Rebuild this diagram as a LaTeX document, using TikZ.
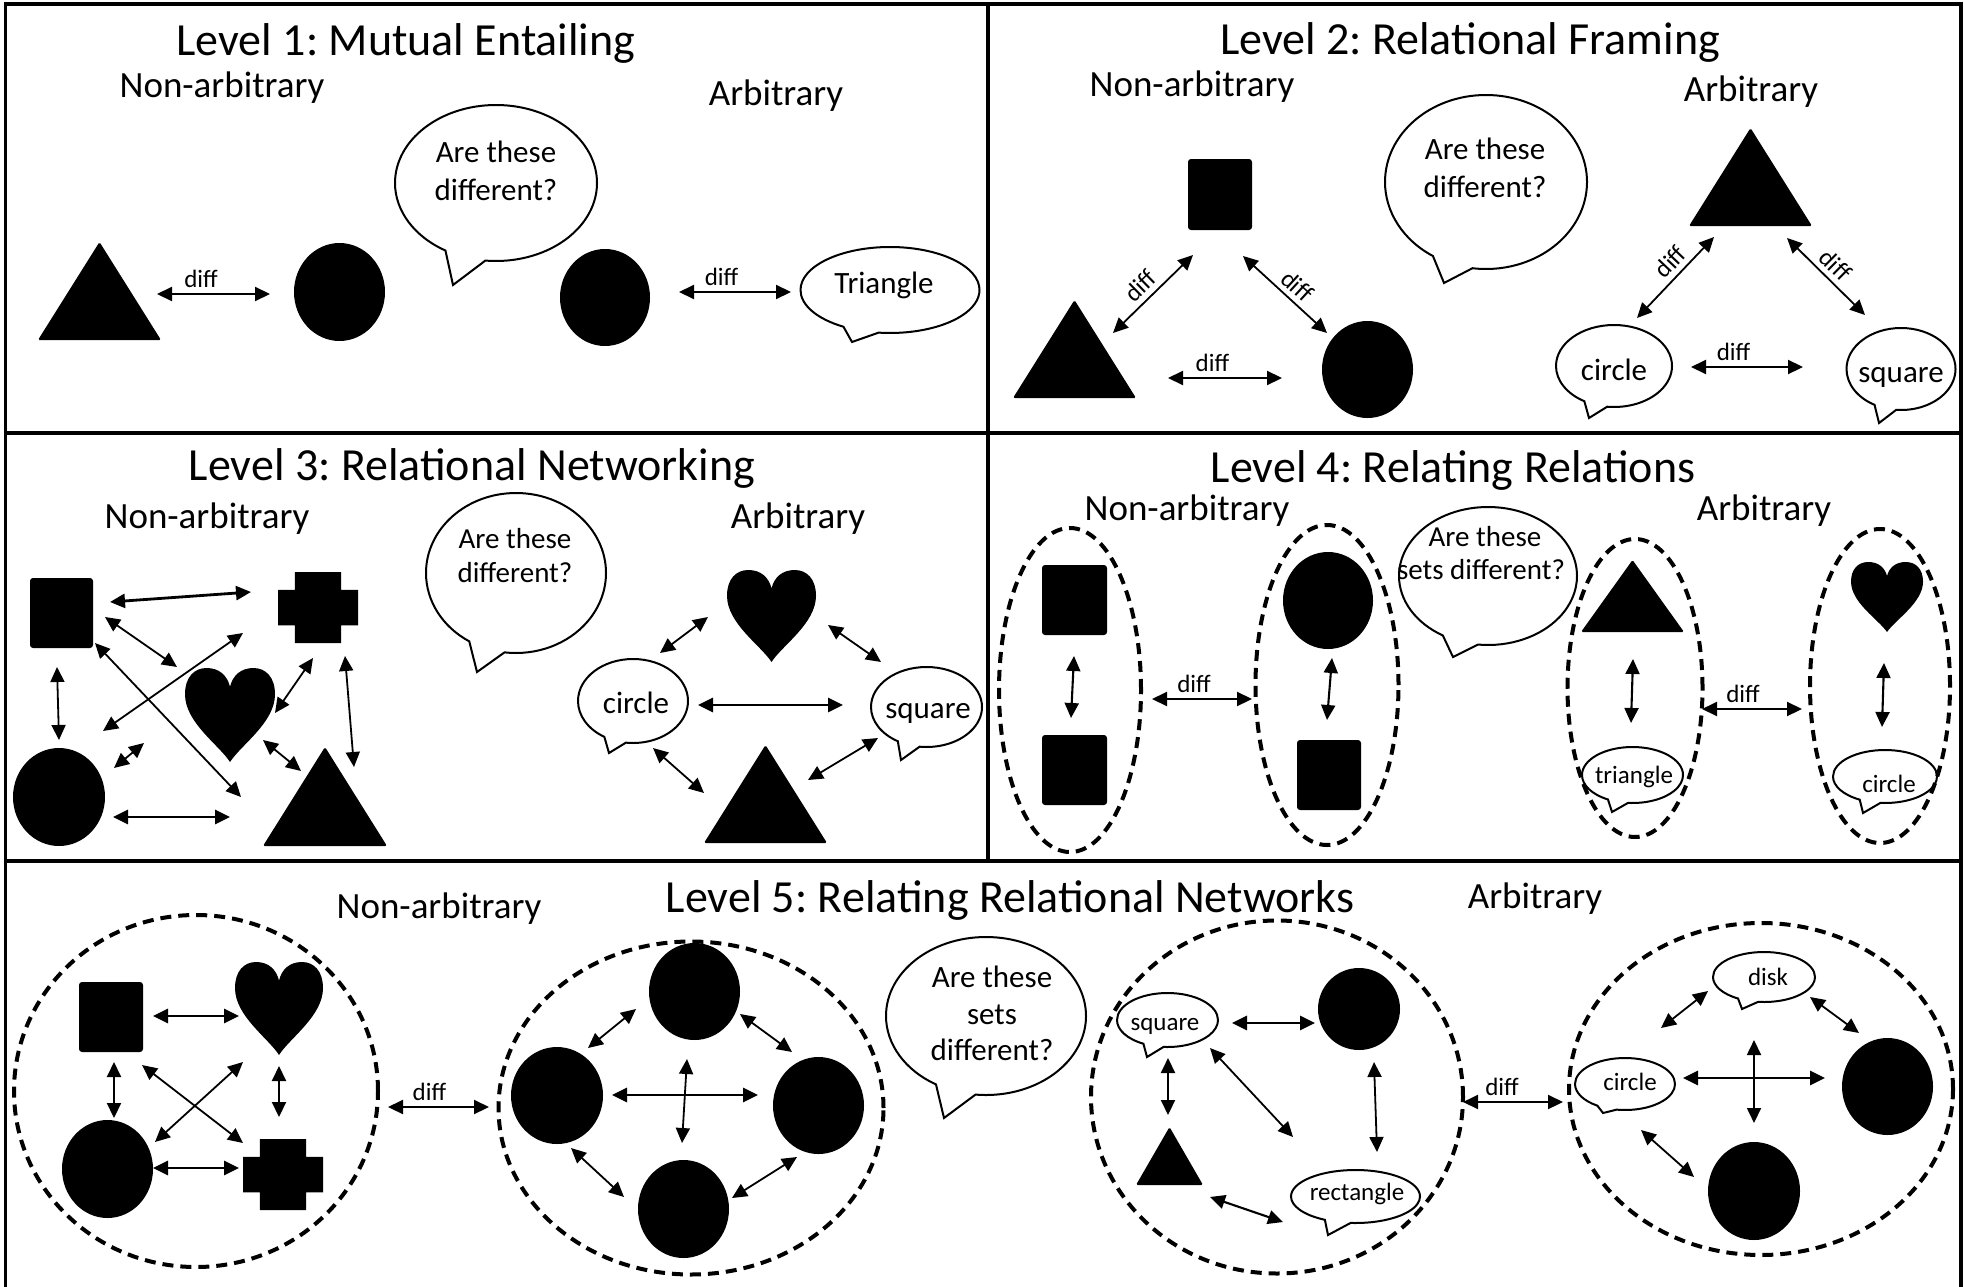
\documentclass[tikz,border=0pt]{standalone}
\usepackage{fontspec}
\setmainfont{Carlito}
\usetikzlibrary{arrows.meta,shapes.geometric,shapes.callouts}
\frenchspacing
\newcommand\ftitle{\fontsize{46}{50}\selectfont}
\newcommand\fsub{\fontsize{37}{40}\selectfont}
\newcommand\fbub{\fontsize{31}{34}\selectfont}
\newcommand\fbubs{\fontsize{29}{32}\selectfont}
\newcommand\fsml{\fontsize{25}{28}\selectfont}
% a double-headed link between two named end points
\newcommand\link[5]{\coordinate (#1s) at #2; \coordinate (#1e) at #3; \draw[#4] (#1s) -- #5 (#1e);}
\begin{document}
\begin{tikzpicture}[x=1pt, y=-1pt,
  >={Triangle[length=15pt,width=14pt]},
  frame/.style={line width=3.5pt},
  ttl/.style={font=\ftitle, inner sep=0pt, anchor=base},
  sub/.style={font=\fsub, inner sep=0pt, anchor=base},
  btxt/.style={font=\fbub, inner sep=0pt, anchor=base},
  btxs/.style={font=\fbubs, inner sep=0pt, anchor=base},
  stxt/.style={font=\fsml, inner sep=0pt, anchor=base},
  lnk/.style={<->, line width=1.8pt},
  lnkb/.style={<->, line width=2.8pt},
  lnkd/.style={<->, line width=2.1pt},
  dl/.style={font=\fsml, inner sep=0pt, above=5pt},
  dls/.style={font=\fsml, inner sep=0pt, sloped, above=5pt},
  solidshape/.style={inner sep=0pt, outer sep=0pt},
  sq/.style 2 args={solidshape, fill=black, rounded corners=3pt, minimum width=#1pt, minimum height=#2pt},
  ov/.style 2 args={solidshape, ellipse, fill=black, minimum width=#1pt, minimum height=#2pt},
  tr/.style 2 args={solidshape, minimum width=#1pt, minimum height=#2pt,
    path picture={\fill[shift={(path picture bounding box.center)}, x=#1pt, y=#2pt, rounded corners=1.5pt]
      (-0.5,-0.5) -- (0.5,-0.5) -- (0,0.5) -- cycle;}},
  ht/.style 2 args={solidshape, minimum width=#1pt, minimum height=#2pt,
    path picture={\fill[shift={(path picture bounding box.center)}, x=#1pt, y=#2pt]
      (0,-0.5) .. controls (-0.12,-0.32) and (-0.5,-0.08) .. (-0.5,0.22)
      .. controls (-0.5,0.4) and (-0.4,0.5) .. (-0.26,0.5)
      .. controls (-0.12,0.5) and (-0.03,0.42) .. (0,0.3)
      .. controls (0.03,0.42) and (0.12,0.5) .. (0.26,0.5)
      .. controls (0.4,0.5) and (0.5,0.4) .. (0.5,0.22)
      .. controls (0.5,-0.08) and (0.12,-0.32) .. (0,-0.5) -- cycle;}},
  cr/.style 2 args={solidshape, minimum width=#1pt, minimum height=#2pt,
    path picture={\fill[shift={(path picture bounding box.center)}, x=#1pt, y=#2pt]
      (-0.29,-0.5) rectangle (0.29,0.5) (-0.5,-0.25) rectangle (0.5,0.25);}},
  bub/.style={ellipse callout, draw, line width=2pt, inner sep=0pt, callout pointer arc=24},
  grp/.style={ellipse, draw, line width=4pt, dash pattern=on 11pt off 7pt, inner sep=0pt},
]
\useasboundingbox (0,0) rectangle (1964,1287);

% ---------- panel frames ----------
\draw[frame] (5.5,4) -- (1961,4);
\draw[frame] (5.5,2) -- (5.5,1287);
\draw[frame] (1961,2) -- (1961,1287);
\draw[frame] (5.5,433) -- (1961,433);
\draw[frame] (5.5,861) -- (1961,861);
\draw[frame] (988,4) -- (988,861);

% ---------- Level 1 ----------
\node[ttl] (t1) at (406,56) {Level 1: Mutual Entailing};
\node[sub] (na1) at (222,98) {Non-arbitrary};
\node[sub] (ar1) at (776,106) {Arbitrary};
\node[bub, minimum width=202pt, minimum height=156pt, callout absolute pointer={(453,285)}] (q1) at (496,183) {};
\node[btxt] (q1a) at (496,162) {Are these};
\node[btxt] (q1b) at (496,200) {different?};
\node[tr={123}{98}] (tri1) at (99.5,291) {};
\node[ov={91}{98}] (cir1) at (339.5,292) {};
\node[ov={90}{97}] (cir1b) at (605,297.5) {};
\node[bub, minimum width=179pt, minimum height=86pt, callout absolute pointer={(852,342)}] (w1) at (890,290) {};
\node[btxt] (w1t) at (884,293) {Triangle};
\link{a}{(157,294)}{(270,294)}{lnkd}{node[dl,pos=.39]{diff}}
\link{b}{(679,292)}{(791,292)}{lnkd}{node[dl,pos=.38]{diff}}

% ---------- Level 2 ----------
\node[ttl] (t2) at (1470,55) {Level 2: Relational Framing};
\node[sub] (na2) at (1192,97) {Non-arbitrary};
\node[sub] (ar2) at (1751,102) {Arbitrary};
\node[sq={64}{71}] (sq2) at (1220,194.5) {};
\node[tr={123}{98}] (tri2) at (1074.5,349) {};
\node[ov={91}{97}] (cir2) at (1367.5,369.5) {};
\node[bub, minimum width=202pt, minimum height=174pt, callout absolute pointer={(1444,283)}] (q2) at (1486,182) {};
\node[btxt] (q2a) at (1485,160) {Are these};
\node[btxt] (q2b) at (1485,197) {different?};
\node[tr={123}{98}] (tri2b) at (1750.5,177) {};
\node[bub, minimum width=116pt, minimum height=82pt, callout absolute pointer={(1589,418)}] (w2a) at (1614,366) {};
\node[btxt] (w2at) at (1614,380) {circle};
\node[bub, minimum width=109pt, minimum height=82pt, callout absolute pointer={(1879,423)}] (w2b) at (1901,369) {};
\node[btxt] (w2bt) at (1901,382) {square};
\link{c}{(1113,333)}{(1193,255)}{lnk}{node[dls,pos=.47]{diff}}
\link{d}{(1243,256)}{(1327,333)}{lnk}{node[dls,pos=.53]{diff}}
\link{e}{(1168,378)}{(1282,378)}{lnkd}{node[dl,pos=.39]{diff}}
\link{f}{(1637,318)}{(1714,237)}{lnk}{node[dls,pos=.57]{diff}}
\link{g}{(1787,238)}{(1865,315)}{lnk}{node[dls,pos=.49]{diff}}
\link{h}{(1691,367)}{(1803,367)}{lnkd}{node[dl,pos=.38]{diff}}

% ---------- Level 3 ----------
\node[ttl] (t3) at (472,480) {Level 3: Relational Networking};
\node[sub] (na3) at (207,528) {Non-arbitrary};
\node[sub] (ar3) at (798,528) {Arbitrary};
\node[sq={63}{70}] (sq3) at (61.5,613) {};
\node[cr={80}{71}] (cr3) at (318,607.5) {};
\node[ht={90}{94}] (ht3) at (230,715) {};
\node[ov={92}{98}] (ci3) at (59,797) {};
\node[tr={124}{99}] (tr3) at (325,796.5) {};
\node[bub, minimum width=180pt, minimum height=160pt, callout absolute pointer={(477,672)}] (q3) at (516,573) {};
\node[btxs] (q3a) at (515,548) {Are these};
\node[btxs] (q3b) at (515,582) {different?};
\node[ht={89}{92}] (ht3b) at (771.5,616) {};
\node[bub, minimum width=110pt, minimum height=84pt, callout absolute pointer={(609,753)}] (w3a) at (633,701) {};
\node[btxt] (w3at) at (636,713) {circle};
\node[bub, minimum width=111pt, minimum height=80pt, callout absolute pointer={(901,760)}] (w3b) at (926.5,707) {};
\node[btxt] (w3bt) at (928,718) {square};
\node[tr={123}{98}] (tr3b) at (765.5,794) {};
\link{i}{(110,602)}{(251,592)}{lnkb}{}
\link{j}{(105,617)}{(177,667)}{lnk}{}
\link{k}{(243,633)}{(103,731)}{lnk}{}
\link{l}{(95,643)}{(241,797)}{lnk}{}
\link{m}{(57,667)}{(59,740)}{lnk}{}
\link{n}{(313,658)}{(275,713)}{lnk}{}
\link{o}{(345,656)}{(354,767)}{lnk}{}
\link{p}{(144,743)}{(114,768)}{lnk}{}
\link{q}{(263,740)}{(301,771)}{lnk}{}
\link{r}{(113,817)}{(230,817)}{lnkb}{}
\link{s}{(660,653)}{(708,617)}{lnk}{}
\link{t}{(828,625)}{(881,662)}{lnk}{}
\link{u}{(698,705)}{(843,705)}{lnkb}{}
\link{v}{(653,748)}{(704,793)}{lnk}{}
\link{w}{(878,738)}{(808,780)}{lnk}{}

% ---------- Level 4 ----------
\node[ttl] (t4) at (1453,482) {Level 4: Relating Relations};
\node[sub] (na4) at (1187,520) {Non-arbitrary};
\node[sub] (ar4) at (1764,520) {Arbitrary};
\node[grp, minimum width=142pt, minimum height=324pt] (g41) at (1070,690) {};
\node[grp, minimum width=143pt, minimum height=320pt] (g42) at (1327,685) {};
\node[grp, minimum width=135pt, minimum height=298pt] (g43) at (1635,688) {};
\node[grp, minimum width=140pt, minimum height=314pt] (g44) at (1880,686) {};
\node[sq={65}{70}] (s41) at (1074.5,600) {};
\node[sq={65}{70}] (s42) at (1074.5,770) {};
\node[ov={90}{97}] (o41) at (1328,600.5) {};
\node[sq={64}{70}] (s43) at (1329,775) {};
\node[bub, minimum width=178pt, minimum height=138pt, callout absolute pointer={(1453,657)}] (q4) at (1488,576) {};
\node[btxs] (q4a) at (1485,546) {Are these};
\node[btxs] (q4b) at (1481,579) {sets different?};
\node[tr={103}{72}] (t41) at (1632.5,596) {};
\node[bub, minimum width=101pt, minimum height=56pt, callout absolute pointer={(1612,812)}] (w41) at (1632.5,775) {};
\node[stxt] (w41t) at (1634,783) {triangle};
\node[ht={72}{70}] (h41) at (1887,597) {};
\node[bub, minimum width=104pt, minimum height=53pt, callout absolute pointer={(1863,813)}] (w42) at (1885,776.5) {};
\node[stxt] (w42t) at (1889,792) {circle};
\link{x1}{(1074,656)}{(1071,718)}{lnkd}{}
\link{x2}{(1332,658)}{(1327,720)}{lnkd}{}
\link{x3}{(1152,699)}{(1252,699)}{lnkd}{node[dl,pos=.42]{diff}}
\link{x4}{(1633,659)}{(1631,723)}{lnkd}{}
\link{x5}{(1884,663)}{(1882,727)}{lnkd}{}
\link{x6}{(1702,709)}{(1802,709)}{lnkd}{node[dl,pos=.41]{diff}}

% ---------- Level 5 ----------
\node[ttl] (t5) at (1010,912) {Level 5: Relating Relational Networks};
\node[sub] (na5) at (439,918) {Non-arbitrary};
\node[sub] (ar5) at (1535,908) {Arbitrary};
\node[grp, minimum width=364pt, minimum height=352pt] (g51) at (196,1091) {};
\node[grp, minimum width=385pt, minimum height=333pt] (g52) at (691,1108) {};
\node[grp, minimum width=372pt, minimum height=353pt] (g53) at (1277,1097) {};
\node[grp, minimum width=384pt, minimum height=332pt] (g54) at (1761,1089) {};
% first set
\node[sq={64}{70}] (s51) at (111,1017) {};
\node[ht={88}{93}] (h51) at (279,1008.5) {};
\node[ov={91}{98}] (o51) at (107.5,1169) {};
\node[cr={80}{71}] (c51) at (283,1174.5) {};
\link{y1}{(153,1016)}{(239,1016)}{lnkb}{}
\link{y2}{(114,1062)}{(114,1118)}{lnkd}{}
\link{y3}{(279,1066)}{(279,1117)}{lnkd}{}
\link{y4}{(142,1065)}{(243,1143)}{lnk}{}
\link{y5}{(243,1062)}{(155,1142)}{lnk}{}
\link{y6}{(153,1168)}{(239,1168)}{lnkb}{}
\link{y7}{(388,1107)}{(489,1107)}{lnkd}{node[dl,pos=.41]{diff}}
% second set
\node[ov={91}{97}] (o52) at (694.5,991.5) {};
\node[ov={92}{97}] (o53) at (557,1095.5) {};
\node[ov={91}{97}] (o54) at (818.5,1105.5) {};
\node[ov={91}{98}] (o55) at (683.5,1209) {};
\link{z1}{(636,1009)}{(588,1048)}{lnk}{}
\link{z2}{(740,1014)}{(792,1052)}{lnk}{}
\link{z3}{(612,1095)}{(758,1095)}{lnkb}{}
\link{z4}{(687,1059)}{(682,1143)}{lnk}{}
\link{z5}{(571,1148)}{(624,1197)}{lnk}{}
\link{z6}{(797,1157)}{(732,1198)}{lnk}{}
% question
\node[bub, minimum width=200pt, minimum height=158pt, callout absolute pointer={(944,1118)}] (q5) at (986,1016) {};
\node[btxt] (q5a) at (992,987) {Are these};
\node[btxt] (q5b) at (992,1024) {sets};
\node[btxt] (q5c) at (992,1060) {different?};
% third set
\node[bub, minimum width=101pt, minimum height=54pt, callout absolute pointer={(1147,1057)}] (w51) at (1167.5,1020) {};
\node[stxt] (w51t) at (1165,1030) {square};
\node[ov={82}{82}] (o56) at (1359,1009) {};
\node[tr={67}{58}] (t51) at (1169.5,1156) {};
\node[bub, minimum width=129pt, minimum height=53pt, callout absolute pointer={(1328,1235)}] (w52) at (1355.5,1196.5) {};
\node[stxt] (w52t) at (1357,1200) {rectangle};
\link{v1}{(1232,1023)}{(1315,1023)}{lnkb}{}
\link{v2}{(1168,1058)}{(1168,1115)}{lnkd}{}
\link{v3}{(1210,1048)}{(1293,1137)}{lnk}{}
\link{v4}{(1374,1062)}{(1377,1152)}{lnk}{}
\link{v5}{(1210,1197)}{(1283,1222)}{lnkd}{}
\link{v6}{(1463,1102)}{(1563,1102)}{lnkd}{node[dl,pos=.39]{diff}}
% fourth set
\node[bub, minimum width=102pt, minimum height=50pt, callout absolute pointer={(1742,1009)}] (w53) at (1764,977) {};
\node[stxt] (w53t) at (1768,985) {disk};
\node[bub, minimum width=100pt, minimum height=52pt, callout absolute pointer={(1603,1113)}] (w54) at (1625,1084) {};
\node[stxt] (w54t) at (1630,1090) {circle};
\node[ov={91}{97}] (o57) at (1887.5,1086.5) {};
\node[ov={92}{98}] (o58) at (1754,1191) {};
\link{u1}{(1661,1028)}{(1708,991)}{lnk}{}
\link{u2}{(1810,997)}{(1859,1033)}{lnk}{}
\link{u3}{(1683,1078)}{(1825,1078)}{lnkb}{}
\link{u4}{(1754,1040)}{(1754,1123)}{lnk}{}
\link{u5}{(1641,1130)}{(1694,1177)}{lnk}{}
\end{tikzpicture}
\end{document}
